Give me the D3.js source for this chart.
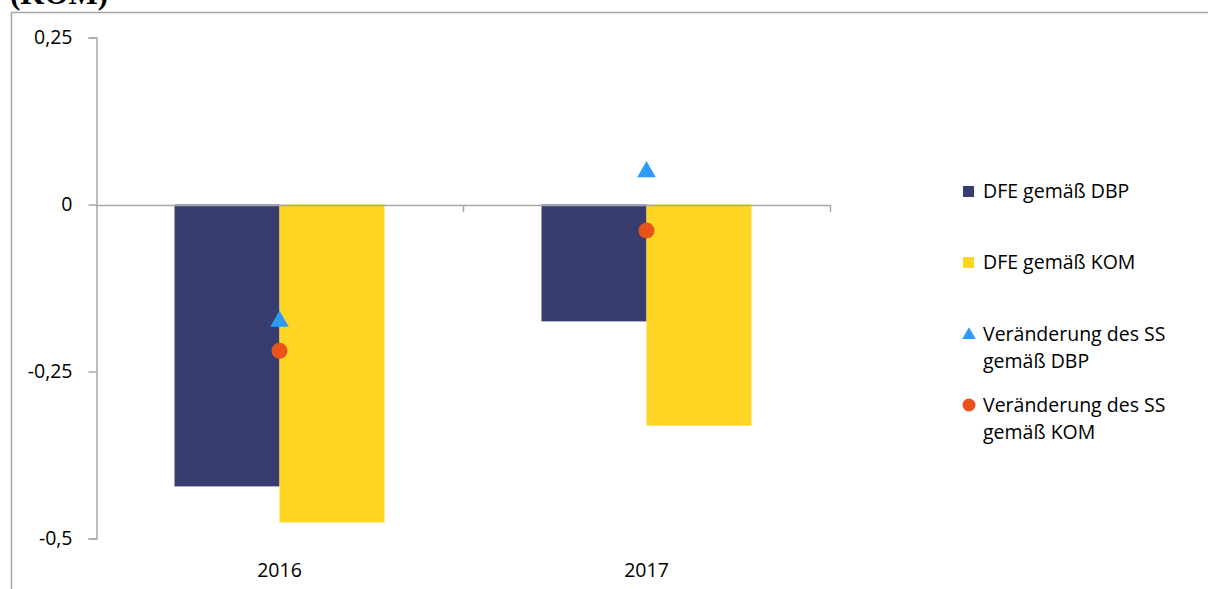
<!DOCTYPE html>
<html>
<head>
<meta charset="utf-8">
<script src="https://cdn.jsdelivr.net/npm/d3@7"></script>
<style>
  body { margin: 0; background: #fff; }
  svg { display: block; }
</style>
</head>
<body>
<div id="chart"></div>
<script>
// Data
const years = ['2016', '2017'];
const dfeDbp = [-0.422, -0.175];
const dfeKom = [-0.476, -0.331];
const ssDbp = [-0.175, 0.049];
const ssKom = [-0.219, -0.039];
const yTicks = [0.25, 0, -0.25, -0.5];
const yTickLabels = ['0,25', '0', '-0,25', '-0,5'];
const legendLabels = [
  ['DFE gemäß DBP'],
  ['DFE gemäß KOM'],
  ['Veränderung des SS', 'gemäß DBP'],
  ['Veränderung des SS', 'gemäß KOM'],
];

const colors = {
  dbp: '#373D6F',
  kom: '#FFD524',
  tri: '#2E9AFE',
  dot: '#E8531B',
  axis: '#A6A6A6',
};

const width = 1208;
const height = 589;
const font = '"Open Sans", "Noto Sans", sans-serif';
const fontSize = 19.5;

const svg = d3.select('#chart').append('svg')
  .attr('width', width)
  .attr('height', height);

// Cut-off title from the page above
svg.append('text')
  .attr('x', 10)
  .attr('y', 4)
  .attr('font-family', '"Liberation Serif", serif')
  .attr('font-weight', 'bold')
  .attr('font-size', 31)
  .text('(KOM)');

// Chart frame (runs off the right and bottom edge)
svg.append('rect')
  .attr('x', 11.5)
  .attr('y', 12.5)
  .attr('width', width + 20)
  .attr('height', height + 20)
  .attr('fill', 'none')
  .attr('stroke', colors.axis)
  .attr('stroke-width', 1.5);

// Scales
const x = d3.scaleBand()
  .domain(years)
  .range([96, 830]);

const y = d3.scaleLinear()
  .domain([-0.5, 0.25])
  .range([538.5, 37.5]);

const barWidth = 105;

// Y axis
const yAxis = d3.axisLeft(y)
  .tickValues(yTicks)
  .tickSize(8)
  .tickPadding(16)
  .tickFormat((d, i) => yTickLabels[i]);

const gy = svg.append('g')
  .attr('transform', 'translate(96.5,0)')
  .call(yAxis);
gy.selectAll('path, line').attr('stroke', colors.axis).attr('stroke-width', 1.5);
gy.selectAll('text')
  .attr('font-family', font)
  .attr('font-size', fontSize)
  .attr('fill', '#000');

// Bars
const g = svg.append('g');

g.selectAll('.bar-dbp')
  .data(dfeDbp)
  .enter()
  .append('rect')
  .attr('class', 'bar-dbp')
  .attr('x', (d, i) => x(years[i]) + x.bandwidth() / 2 - barWidth)
  .attr('y', y(0))
  .attr('width', barWidth)
  .attr('height', d => y(d) - y(0))
  .attr('fill', colors.dbp);

g.selectAll('.bar-kom')
  .data(dfeKom)
  .enter()
  .append('rect')
  .attr('class', 'bar-kom')
  .attr('x', (d, i) => x(years[i]) + x.bandwidth() / 2)
  .attr('y', y(0))
  .attr('width', barWidth)
  .attr('height', d => y(d) - y(0))
  .attr('fill', colors.kom);

// X axis at zero
const xAxis = d3.axisBottom(x)
  .tickSize(0)
  .tickFormat('');

const gx = svg.append('g')
  .attr('transform', 'translate(0,' + (y(0) + 0.5) + ')')
  .call(xAxis);
gx.select('.domain').attr('stroke', colors.axis).attr('stroke-width', 1.5);

// Category boundary ticks
gx.selectAll('.cat-tick')
  .data(years)
  .enter()
  .append('line')
  .attr('class', 'cat-tick')
  .attr('x1', d => x(d) + x.bandwidth() + 0.5)
  .attr('x2', d => x(d) + x.bandwidth() + 0.5)
  .attr('y1', 0)
  .attr('y2', 7)
  .attr('stroke', colors.axis)
  .attr('stroke-width', 1.5);

// Category labels near the bottom
svg.selectAll('.year-label')
  .data(years)
  .enter()
  .append('text')
  .attr('class', 'year-label')
  .attr('x', d => x(d) + x.bandwidth() / 2)
  .attr('y', 577)
  .attr('text-anchor', 'middle')
  .attr('font-family', font)
  .attr('font-size', fontSize)
  .text(d => d);

// Markers
const tri = d3.symbol().type(d3.symbolTriangle).size(150);

g.selectAll('.tri')
  .data(ssDbp)
  .enter()
  .append('path')
  .attr('class', 'tri')
  .attr('d', tri)
  .attr('transform', (d, i) => 'translate(' + (x(years[i]) + x.bandwidth() / 2) + ',' + y(d) + ')')
  .attr('fill', colors.tri);

g.selectAll('.dot')
  .data(ssKom)
  .enter()
  .append('circle')
  .attr('class', 'dot')
  .attr('cx', (d, i) => x(years[i]) + x.bandwidth() / 2)
  .attr('cy', d => y(d))
  .attr('r', 8)
  .attr('fill', colors.dot);

// Legend
const legendY = [191, 262, 334, 405];
const legend = svg.append('g').attr('transform', 'translate(963,0)');

const items = legend.selectAll('.item')
  .data(legendLabels)
  .enter()
  .append('g')
  .attr('class', 'item')
  .attr('transform', (d, i) => 'translate(0,' + legendY[i] + ')');

items.each(function (d, i) {
  const item = d3.select(this);
  if (i < 2) {
    item.append('rect')
      .attr('x', 0)
      .attr('y', -5)
      .attr('width', 11)
      .attr('height', 11)
      .attr('fill', i === 0 ? colors.dbp : colors.kom);
  } else if (i === 2) {
    item.append('path')
      .attr('d', d3.symbol().type(d3.symbolTriangle).size(80))
      .attr('transform', 'translate(6,1)')
      .attr('fill', colors.tri);
  } else {
    item.append('circle')
      .attr('cx', 6)
      .attr('cy', 0)
      .attr('r', 6.5)
      .attr('fill', colors.dot);
  }
  item.selectAll('text')
    .data(d)
    .enter()
    .append('text')
    .attr('x', 20)
    .attr('y', (t, j) => 6.5 + j * 27.5)
    .attr('font-family', font)
    .attr('font-size', fontSize)
    .attr('fill', '#000')
    .text(t => t);
});
</script>
</body>
</html>
